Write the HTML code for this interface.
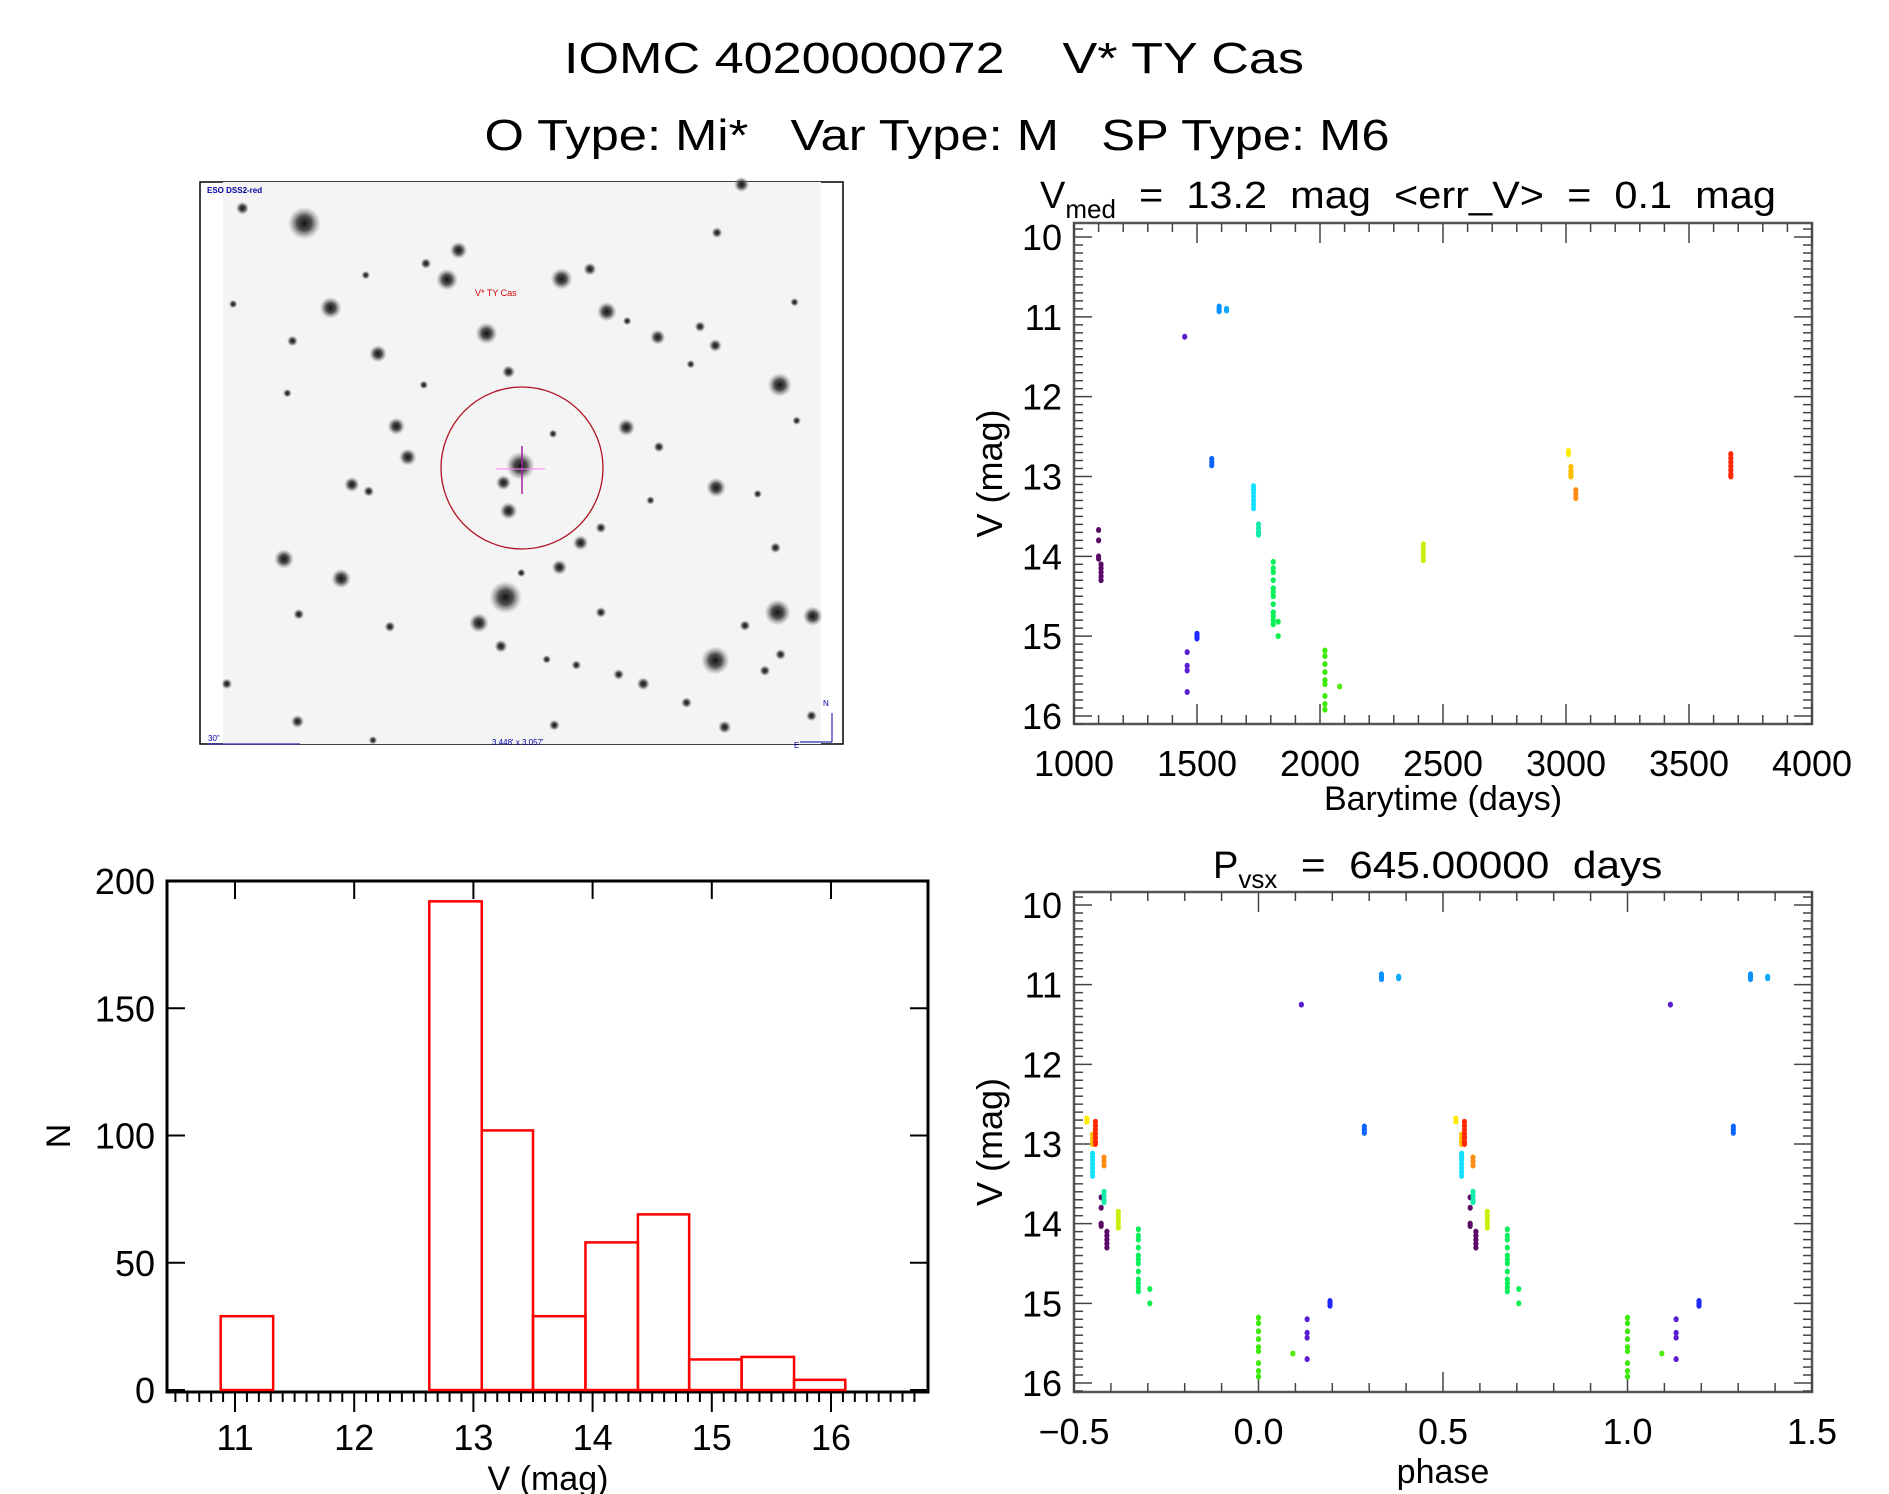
<!DOCTYPE html>
<html><head><meta charset="utf-8"><style>
html,body{margin:0;padding:0;background:#fff}
svg{display:block;font-family:"Liberation Sans",sans-serif}
text{white-space:pre}
</style></head><body>
<svg id="s" width="1889" height="1494" viewBox="0 0 1889 1494" xmlns="http://www.w3.org/2000/svg">
<text x="934" y="73" font-size="44" text-anchor="middle" textLength="740" lengthAdjust="spacingAndGlyphs">IOMC 4020000072    V* TY Cas</text>
<text x="937" y="150" font-size="44" text-anchor="middle" textLength="905" lengthAdjust="spacingAndGlyphs">O Type: Mi*   Var Type: M   SP Type: M6</text>
<g id="img"></g>
<g id="tr"></g>
<g id="br"></g>
<g id="hist"></g>
</svg>
<script>
// ---------- data ----------
const obsTime = [1100,1100,1100,1100,1110,1110,1110,1110,1110,1450,1460,1460,1460,1460,1500,1500,1500,1560,1560,1560,1590,1590,1590,1620,1620,1730,1730,1730,1730,1730,1730,1730,1750,1750,1750,1750,1810,1810,1810,1810,1810,1810,1810,1810,1810,1810,1810,1810,1830,1830,2020,2020,2020,2020,2020,2020,2020,2020,2020,2080,2420,2420,2420,2420,2420,3010,3010,3020,3020,3020,3020,3040,3040,3040,3670,3670,3670,3670,3670,3670,3670];
const obsMag = [13.67,13.8,14.0,14.03,14.1,14.15,14.2,14.25,14.3,11.25,15.2,15.37,15.43,15.7,14.97,15.0,15.03,12.78,12.82,12.86,10.87,10.9,10.93,10.9,10.92,13.12,13.16,13.2,13.25,13.3,13.35,13.4,13.6,13.65,13.7,13.73,14.07,14.15,14.2,14.3,14.4,14.45,14.5,14.6,14.7,14.75,14.8,14.85,14.82,15.0,15.18,15.25,15.35,15.45,15.55,15.6,15.75,15.85,15.92,15.63,13.85,13.9,13.95,14.0,14.05,12.68,12.72,12.88,12.93,12.97,13.0,13.17,13.22,13.27,12.72,12.77,12.82,12.87,12.92,12.97,13.0];
const period = 645.0;
const epoch = 2020;
const histEdges = [10.88,11.32,11.75,12.19,12.63,13.07,13.50,13.94,14.38,14.81,15.25,15.69,16.12];
const histCounts = [29,0,0,0,192,102,29,58,69,12,13,4];
const timeTicks = [1000,1500,2000,2500,3000,3500,4000];
const magTicks = [10,11,12,13,14,15,16];
const phaseTicks = [-0.5,0,0.5,1.0,1.5];
const phaseTickLabels = ["\u22120.5","0.0","0.5","1.0","1.5"];
const histXTicks = [11,12,13,14,15,16];
const histYTicks = [0,50,100,150,200];

const NS="http://www.w3.org/2000/svg";
function mk(tag,attrs,parent,txt){const e=document.createElementNS(NS,tag);for(const k in attrs)e.setAttribute(k,attrs[k]);if(txt!==undefined)e.textContent=txt;parent.appendChild(e);return e;}
function lin(d0,d1,r0,r1){return v=>r0+(v-d0)/(d1-d0)*(r1-r0);}
function ln(p,x1,y1,x2,y2,w,c){return mk('line',{x1:x1,y1:y1,x2:x2,y2:y2,stroke:c||'#000','stroke-width':w||2},p);}
const stops=[[1100,[90,10,100]],[1460,[90,30,210]],[1500,[30,40,255]],[1560,[10,100,255]],[1600,[10,160,255]],[1730,[20,225,255]],[1750,[20,235,170]],[1810,[10,240,90]],[2020,[60,235,10]],[2420,[200,240,10]],[3010,[255,235,0]],[3020,[255,190,0]],[3040,[255,140,20]],[3670,[255,40,0]]];
function col(t){if(t<=stops[0][0])return 'rgb('+stops[0][1]+')';for(let i=1;i<stops.length;i++){if(t<=stops[i][0]){const a=stops[i-1],b=stops[i],f=(t-a[0])/(b[0]-a[0]);return 'rgb('+a[1].map((v,j)=>Math.round(v+(b[1][j]-v)*f)).join(',')+')';}}return 'rgb('+stops[stops.length-1][1]+')';}

// ---------- finder image ----------
(function(){
const g=document.getElementById('img');
mk('rect',{x:200,y:182,width:643,height:562,fill:'#fff',stroke:'#000','stroke-width':1.5},g);
mk('rect',{x:223,y:182,width:598,height:562,fill:'#f4f4f4'},g);
const defs=mk('defs',{},g);
const rg=mk('radialGradient',{id:'star'},defs);
mk('stop',{offset:'0','stop-color':'#111','stop-opacity':'1'},rg);
mk('stop',{offset:'0.45','stop-color':'#333','stop-opacity':'0.85'},rg);
mk('stop',{offset:'1','stop-color':'#888','stop-opacity':'0'},rg);
const stars=[[258,115,30],[112,75,12],[622,187,16],[595,265,20],[865,263,20],[932,237,12],[320,340,20],[972,350,18],[688,408,20],[432,462,16],[1092,418,14],[1228,440,12],[230,428,10],[1192,390,10],[740,510,12],[1380,545,22],[1018,658,16],[475,655,16],[502,737,16],[768,760,26],[728,805,14],[740,880,16],[370,810,14],[410,828,10],[1230,818,18],[1095,710,10],[210,1008,18],[345,1060,18],[910,965,14],[958,925,10],[860,1030,14],[733,1110,30],[670,1178,18],[722,1240,12],[958,1150,10],[460,1188,10],[1375,1150,24],[1458,1160,18],[1298,1185,10],[1228,1278,26],[1370,978,10],[1382,1262,10],[1345,1305,10],[1058,1340,12],[1000,1315,10],[242,1440,12],[1250,1455,12],[1455,1425,10],[1290,12,14],[1232,140,10],[1415,325,8],[545,222,10],[403,253,8],[90,330,8],[75,1340,10],[218,567,8],[540,545,8],[1160,1390,10],[848,1450,10],[770,1045,8],[845,675,8],[1328,835,8],[1020,375,8],[1170,490,8],[1075,852,8],[245,1155,10],[420,1490,8],[900,1290,9],[830,1275,8],[1420,640,8]];
const gs=mk('g',{transform:'translate(195,180) scale(0.4237,0.376)'},g);
stars.forEach(s=>{const c=mk('ellipse',{cx:s[0],cy:s[1],rx:s[2]*1.3,ry:s[2]*1.45,fill:'url(#star)'},gs);

});
const tc=mk('ellipse',{cx:522,cy:468,rx:81,ry:81,fill:'none',stroke:'#b01020','stroke-width':1.3},g);


ln(g,522,446,522,494,1.5,'#a020a0');ln(g,496,469,545,469,1,'#ff80ff');
mk('text',{x:475,y:296,'font-size':9,fill:'#d00000'},g,'V* TY Cas');
mk('text',{x:207,y:193,'font-size':8,fill:'#0000a0','font-weight':'bold'},g,'ESO DSS2-red');
mk('text',{x:208,y:741,'font-size':8,fill:'#0000a0'},g,'30"');
ln(g,208,744,300,744,1,'#0000a0');
mk('text',{x:492,y:745,'font-size':8,fill:'#0000a0'},g,"3.448' x 3.057'");
mk('text',{x:823,y:706,'font-size':8,fill:'#0000a0'},g,'N');
ln(g,832,713,832,742,1,'#0000a0');ln(g,800,742,832,742,1,'#0000a0');
mk('text',{x:794,y:748,'font-size':8,fill:'#0000a0'},g,'E');
})();

// ---------- generic axes for mag plots ----------
function magAxes(g,X0,X1,Y0,Y1,xs,ys,xMaj,xLab,xMinStep,xmin,xmax){
  mk('rect',{x:X0,y:Y0,width:X1-X0,height:Y1-Y0,fill:'none',stroke:'#555','stroke-width':2.5},g);
  for(let m=9.9;m<=16.15;m+=0.1){const v=Math.round(m*10)/10;const y=ys(v);if(y<Y0||y>Y1)continue;const L=(Math.abs(v-Math.round(v))<1e-6)?18:9;ln(g,X0,y,X0+L,y,1.5,'#444');ln(g,X1-L,y,X1,y,1.5,'#444');}
  magTicks.forEach(v=>{const t=mk('text',{x:X0-12,y:ys(v)+13,'font-size':36,'text-anchor':'end'},g,String(v));});
  const n=Math.round((xmax-xmin)/xMinStep);
  for(let i=0;i<=n;i++){const v=xmin+i*xMinStep;const x=xs(v);const maj=xMaj.some(m=>Math.abs(m-v)<1e-6);const L=maj?20:9;ln(g,x,Y1,x,Y1-L,1.5,'#444');ln(g,x,Y0,x,Y0+L,1.5,'#444');}
  xMaj.forEach((v,i)=>{const t=mk('text',{x:xs(v),y:Y1+52,'font-size':36,'text-anchor':'middle'},g,xLab[i]);});
  const yl=mk('text',{x:0,y:0,'font-size':36,'text-anchor':'middle',transform:'translate('+(X0-72)+','+((Y0+Y1)/2)+') rotate(-90)'},g,'V (mag)');
  
}
function dot(g,x,y,c){return mk('ellipse',{cx:x,cy:y,rx:2.6,ry:3,fill:c},g);}

// ---------- light curve ----------
(function(){
const g=document.getElementById('tr');
const X0=1074,X1=1812,Y0=223,Y1=724;
const xs=lin(1000,4000,X0,X1), ys=lin(10,16,237,716);
magAxes(g,X0,X1,Y0,Y1,xs,ys,timeTicks,timeTicks.map(String),100,1000,4000);
obsTime.forEach((t,i)=>{const d=dot(g,xs(t),ys(obsMag[i]),col(t));

});
const tt=mk('text',{x:1040,y:208,'font-size':38},g);

mk('tspan',{},tt,'V');mk('tspan',{'font-size':26,dy:10},tt,'med');mk('tspan',{dy:-10,textLength:660,lengthAdjust:'spacingAndGlyphs'},tt,'  =  13.2  mag  <err_V>  =  0.1  mag');
const xl=mk('text',{x:(X0+X1)/2,y:810,'font-size':34,'text-anchor':'middle'},g,'Barytime (days)');

})();

// ---------- phase plot ----------
(function(){
const g=document.getElementById('br');
const X0=1074,X1=1812,Y0=892,Y1=1392;
const xs=lin(-0.5,1.5,X0,X1), ys=lin(10,16,905,1383);
magAxes(g,X0,X1,Y0,Y1,xs,ys,phaseTicks,phaseTickLabels,0.1,-0.5,1.5);
obsTime.forEach((t,i)=>{let p=((t-epoch)/period)%1;if(p<0)p+=1;
 [p-1,p,p+1].forEach(q=>{if(q<-0.5||q>1.5)return;const d=dot(g,xs(q),ys(obsMag[i]),col(t));
 
 });});
const tt=mk('text',{x:1213,y:878,'font-size':38},g);

mk('tspan',{},tt,'P');mk('tspan',{'font-size':26,dy:10},tt,'vsx');mk('tspan',{dy:-10,textLength:385,lengthAdjust:'spacingAndGlyphs'},tt,'  =  645.00000  days');
const xl=mk('text',{x:(X0+X1)/2,y:1483,'font-size':34,'text-anchor':'middle'},g,'phase');

})();

// ---------- histogram ----------
(function(){
const g=document.getElementById('hist');
const X0=167,X1=928,Y0=881,Y1=1392;
const xs=lin(11,16,235,831), ys=lin(0,200,1390,881);
mk('rect',{x:X0,y:Y0,width:X1-X0,height:Y1-Y0,fill:'none',stroke:'#000','stroke-width':3},g);
for(let i=0;i<=63;i++){const v=10.5+i*0.1;const x=xs(v);if(x<X0+2||x>X1-2)continue;const maj=Math.abs(v-Math.round(v))<1e-6;ln(g,x,Y1,x,Y1+(maj?20:10),2,'#000');if(maj)ln(g,x,Y0,x,Y0+18,2,'#000');}
histYTicks.forEach(v=>{ln(g,X0,ys(v),X0+18,ys(v),2);ln(g,X1-18,ys(v),X1,ys(v),2);
 const t=mk('text',{x:X0-12,y:ys(v)+13,'font-size':36,'text-anchor':'end'},g,String(v));});
histXTicks.forEach(v=>{const t=mk('text',{x:xs(v),y:1450,'font-size':36,'text-anchor':'middle'},g,String(v));});
histCounts.forEach((c,i)=>{const x0=xs(histEdges[i]),x1=xs(histEdges[i+1]);
 const b=mk('rect',{x:x0,y:ys(c),width:x1-x0,height:ys(0)-ys(c),fill:'none',stroke:'#ff0000','stroke-width':2.5},g);
 
 });
const xl=mk('text',{x:548,y:1490,'font-size':34,'text-anchor':'middle'},g,'V (mag)');

const yl=mk('text',{x:0,y:0,'font-size':34,'text-anchor':'middle',transform:'translate(70,1136) rotate(-90)'},g,'N');

})();
</script>
</body></html>
